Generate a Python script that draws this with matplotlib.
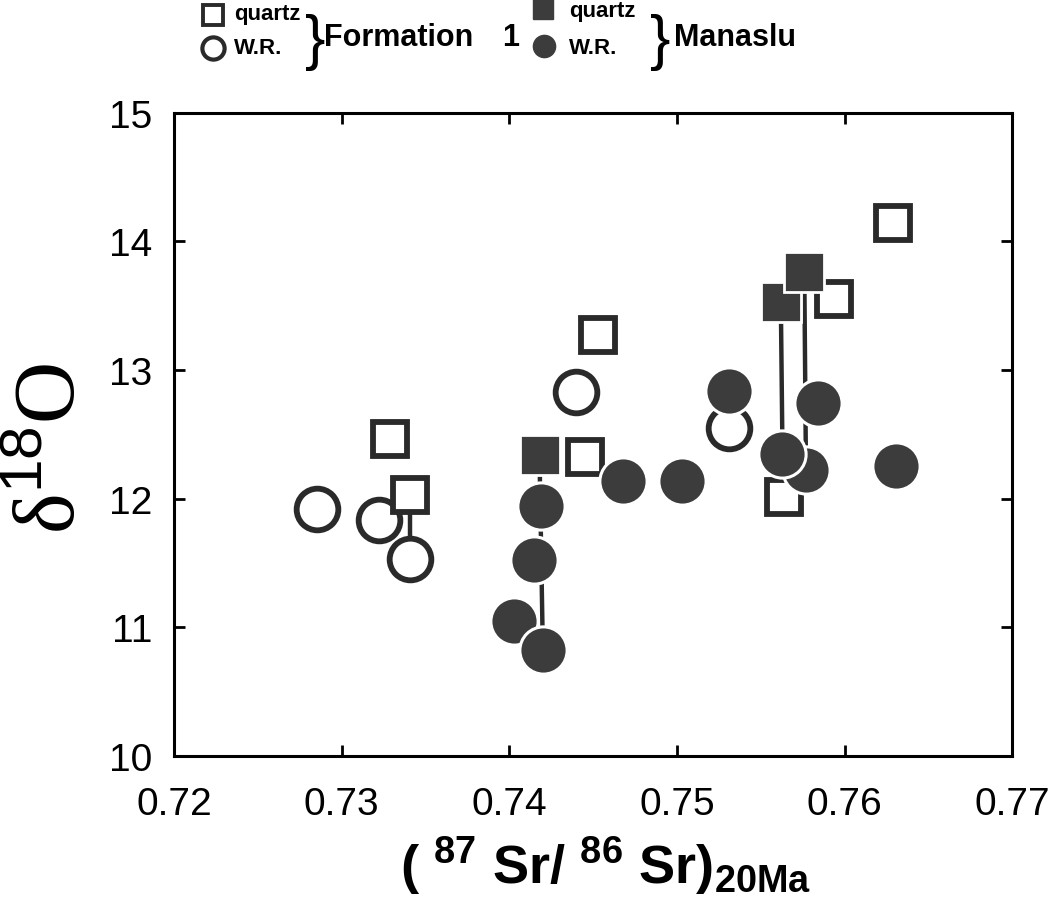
import matplotlib.pyplot as plt

plt.rcParams['font.family'] = ['Liberation Sans', 'DejaVu Sans']
plt.rcParams['mathtext.fontset'] = 'custom'
plt.rcParams['mathtext.rm'] = 'Liberation Sans'
plt.rcParams['mathtext.bf'] = 'Liberation Sans:bold'

# Formation 1: cuarzo (cuadrados abiertos) y roca total (círculos abiertos)
f1_qz_sr = [0.7329, 0.7341, 0.7453, 0.7445, 0.7564, 0.7594, 0.7629]
f1_qz_d18o = [12.46, 12.03, 13.27, 12.32, 12.01, 13.55, 14.14]
f1_wr_sr = [0.7322, 0.7285, 0.7341, 0.7440, 0.7531]
f1_wr_d18o = [11.83, 11.92, 11.53, 12.83, 12.55]

# Manaslu: cuarzo (cuadrados llenos) y roca total (círculos llenos)
man_qz_sr = [0.7418, 0.7562, 0.7576]
man_qz_d18o = [12.34, 13.53, 13.76]
man_wr_sr = [0.7403, 0.7420, 0.7415, 0.7419, 0.7468, 0.7503, 0.7531,
             0.7577, 0.7563, 0.7584, 0.7631]
man_wr_d18o = [11.05, 10.82, 11.52, 11.94, 12.14, 12.14, 12.84,
               12.22, 12.35, 12.74, 12.25]

# pares cuarzo -> roca total (índices) unidos con línea vertical
f1_links = [(1, 2)]
man_links = [(0, 1), (1, 8), (2, 7)]

xticks = [0.72, 0.73, 0.74, 0.75, 0.76, 0.77]
yticks = [10, 11, 12, 13, 14, 15]

dark = '#2a2a2a'
fill = '#3c3c3c'

fig = plt.figure(figsize=(10.62, 9.03), dpi=100)
ax = fig.add_axes([0.164, 0.162, 0.789, 0.712])

# líneas de unión
for i, j in f1_links:
    ax.plot([f1_qz_sr[i], f1_wr_sr[j]], [f1_qz_d18o[i], f1_wr_d18o[j]],
            color=dark, lw=3.2, zorder=1)
for i, j in man_links:
    ax.plot([man_qz_sr[i], man_wr_sr[j]], [man_qz_d18o[i], man_wr_d18o[j]],
            color=dark, lw=3.2, zorder=1)

ax.plot(f1_wr_sr, f1_wr_d18o, 'o', ms=30, mfc='white', mec=dark, mew=4.2,
        ls='none', zorder=2)
ax.plot(f1_qz_sr, f1_qz_d18o, 's', ms=25, mfc='white', mec=dark, mew=4.2,
        ls='none', zorder=3)
ax.plot(man_qz_sr, man_qz_d18o, 's', ms=29, mfc=fill, mec='white', mew=2,
        ls='none', zorder=4)
ax.plot(man_wr_sr, man_wr_d18o, 'o', ms=34, mfc=fill, mec='white', mew=2.2,
        ls='none', zorder=5)

ax.set_xlim(0.72, 0.77)
ax.set_ylim(10, 15)
ax.set_xticks(xticks)
ax.set_xticklabels([f'{t:.2f}' for t in xticks])
ax.set_yticks(yticks)
ax.tick_params(direction='in', length=8, width=2, top=True, right=True,
               labelsize=28, colors='black')
ax.tick_params(axis='x', pad=22)
ax.tick_params(axis='y', pad=16)
for s in ax.spines.values():
    s.set_linewidth(2.2)
    s.set_color('black')

fig.text(606 / 1062, 1 - 866 / 903,
         r'( $^{\mathbf{87}}$ Sr/ $^{\mathbf{86}}$ Sr)$_{\mathbf{20Ma}}$',
         ha='center', va='center', fontsize=39, fontweight='bold')
fig.text(54 / 1062, 1 - 448 / 903, 'δ$^{18}$O', rotation=90, ha='center',
         va='center', fontsize=62, family='Liberation Serif')

# leyenda a mano arriba del gráfico
tf = fig.transFigure
ax.plot([0.2006], [0.982], 's', ms=14, mfc='white', mec=dark, mew=2.8,
        transform=tf, clip_on=False)
ax.plot([0.2006], [0.946], 'o', ms=16, mfc='white', mec=dark, mew=3,
        transform=tf, clip_on=False)
fig.text(0.220, 0.984, 'quartz', fontsize=16, fontweight='bold', va='center')
fig.text(0.220, 0.946, 'W.R.', fontsize=16, fontweight='bold', va='center')
fig.text(0.297, 0.953, '}', fontsize=44, va='center', ha='center')
fig.text(0.305, 0.958, 'Formation', fontsize=22, fontweight='bold',
         va='center')
fig.text(0.481, 0.958, '1', fontsize=22, fontweight='bold', va='center',
         ha='center')

ax.plot([0.511], [0.989], 's', ms=14, mfc=fill, mec=fill, mew=1,
        transform=tf, clip_on=False)
ax.plot([0.512], [0.948], 'o', ms=16, mfc=fill, mec=fill, mew=1,
        transform=tf, clip_on=False)
fig.text(0.536, 0.987, 'quartz', fontsize=16, fontweight='bold', va='center')
fig.text(0.536, 0.946, 'W.R.', fontsize=16, fontweight='bold', va='center')
fig.text(0.622, 0.953, '}', fontsize=44, va='center', ha='center')
fig.text(0.635, 0.958, 'Manaslu', fontsize=22, fontweight='bold',
         va='center')

fig.savefig('out.png', dpi=100)
